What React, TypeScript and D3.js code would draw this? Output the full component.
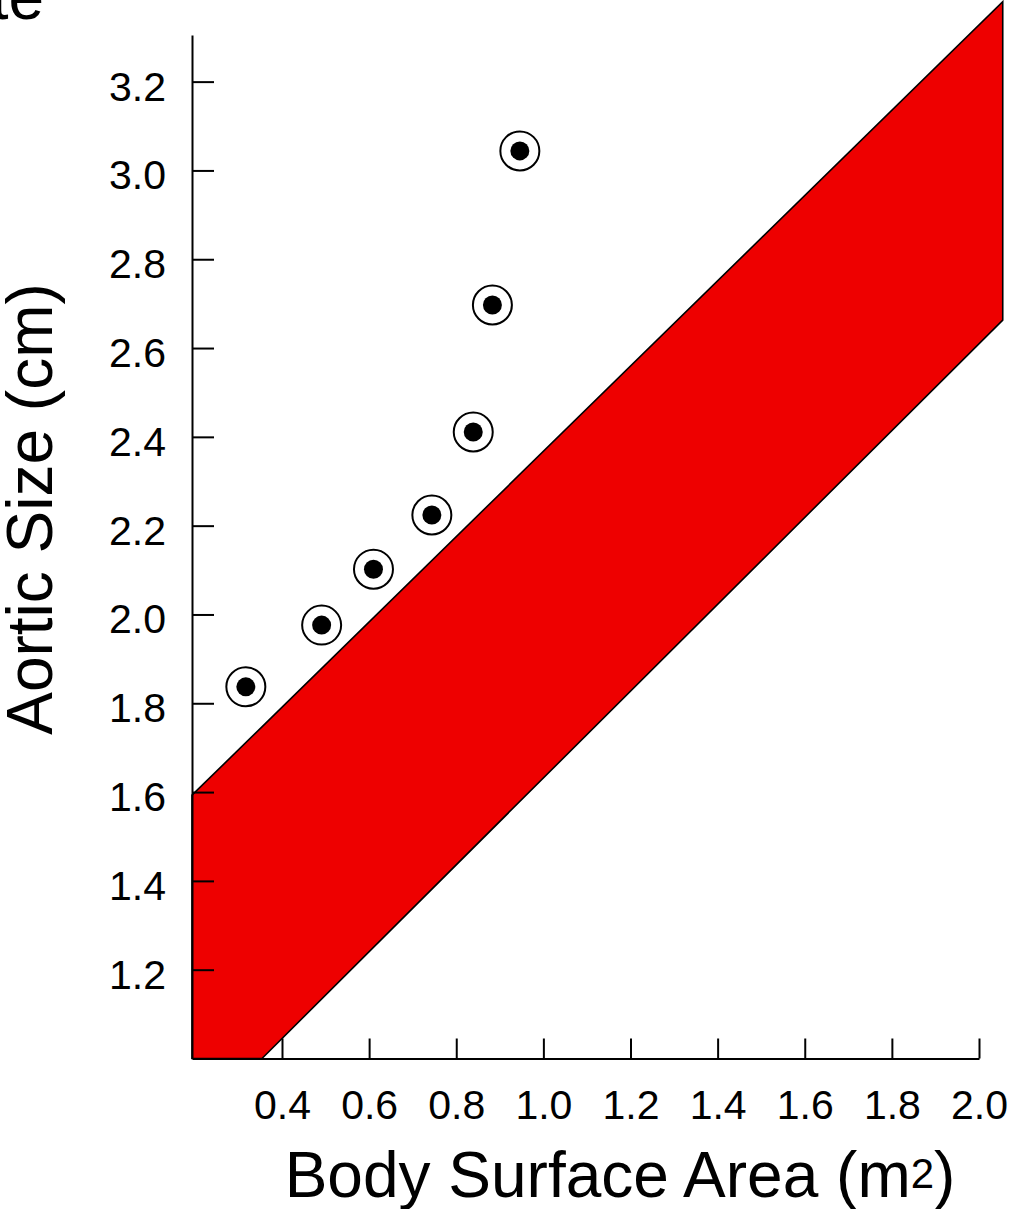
import { useEffect, useRef } from 'react'
import * as d3 from 'd3'

// normal range band (upper / lower limits vs BSA)
const bandBsa = [0.1934, 0.354, 2.0545]
const bandUpper = [1.593, 1.747, 3.38]
const bandLower = [1.0, 1.0, 2.663]

// patient measurements
const pointBsa = [0.317, 0.491, 0.61, 0.744, 0.839, 0.883, 0.946]
const pointSize = [1.837, 1.976, 2.102, 2.224, 2.411, 2.697, 3.044]

const xTicks = [0.4, 0.6, 0.8, 1.0, 1.2, 1.4, 1.6, 1.8, 2.0]
const yTicks = [1.2, 1.4, 1.6, 1.8, 2.0, 2.2, 2.4, 2.6, 2.8, 3.0, 3.2]

export default function App() {
  const svgRef = useRef<SVGSVGElement | null>(null)

  useEffect(() => {
    if (!svgRef.current) return

    const width = 1015
    const height = 1209
    const font = "'Liberation Sans', Arial, Helvetica, sans-serif"

    d3.select(svgRef.current).selectAll('*').remove()

    const svg = d3
      .select(svgRef.current)
      .attr('width', width)
      .attr('height', height)
      .style('background', '#fff')

    const x = d3.scaleLinear().domain([0.1934, 2.0]).range([192, 979])
    const y = d3.scaleLinear().domain([1.0, 3.305]).range([1058.5, 35])

    // band
    const bandData = bandBsa.map((b, i) => ({ b, hi: bandUpper[i], lo: bandLower[i] }))
    const area = d3
      .area<{ b: number; hi: number; lo: number }>()
      .x(d => x(d.b))
      .y0(d => y(d.lo))
      .y1(d => y(d.hi))

    svg
      .append('path')
      .datum(bandData)
      .attr('d', area)
      .attr('fill', '#ee0000')
      .attr('stroke', '#000')
      .attr('stroke-width', 1.6)
      .attr('stroke-linejoin', 'miter')

    // y axis
    const yAxis = d3
      .axisLeft(y)
      .tickValues(yTicks)
      .tickFormat(d3.format('.1f'))
      .tickSizeInner(-22)
      .tickSizeOuter(0)
      .tickPadding(26)

    const gy = svg.append('g').attr('transform', `translate(${x(0.1934)},0)`).call(yAxis)
    gy.select('.domain').attr('stroke', '#000').attr('stroke-width', 2)
    gy.selectAll('.tick line').attr('stroke', '#000').attr('stroke-width', 2)
    gy.selectAll('.tick text')
      .attr('dy', '0.45em')
      .style('font-family', font)
      .style('font-size', '41px')
      .attr('fill', '#000')

    // x axis
    const xAxis = d3
      .axisBottom(x)
      .tickValues(xTicks)
      .tickFormat(d3.format('.1f'))
      .tickSizeInner(-20)
      .tickSizeOuter(0)
      .tickPadding(31)

    const gx = svg.append('g').attr('transform', `translate(0,${y(1.0)})`).call(xAxis)
    gx.select('.domain').attr('stroke', '#000').attr('stroke-width', 2)
    gx.selectAll('.tick line').attr('stroke', '#000').attr('stroke-width', 2)
    gx.selectAll('.tick text')
      .style('font-family', font)
      .style('font-size', '41px')
      .attr('fill', '#000')

    // points
    const pts = svg
      .selectAll('.pt')
      .data(pointBsa.map((b, i) => ({ b, s: pointSize[i] })))
      .enter()
      .append('g')
      .attr('class', 'pt')
      .attr('transform', d => `translate(${x(d.b)},${y(d.s)})`)

    pts.append('circle').attr('r', 19.5).attr('fill', '#fff').attr('stroke', '#000').attr('stroke-width', 2)
    pts.append('circle').attr('r', 9.5).attr('fill', '#000')

    // titles
    svg
      .append('text')
      .attr('transform', 'translate(52,509) rotate(-90)')
      .attr('text-anchor', 'middle')
      .style('font-family', font)
      .style('font-size', '64px')
      .text('Aortic Size (cm)')

    const xt = svg
      .append('text')
      .attr('x', 620)
      .attr('y', 1197)
      .attr('text-anchor', 'middle')
      .style('font-family', font)
      .style('font-size', '64px')
    xt.append('tspan').text('Body Surface Area (m')
    xt.append('tspan').attr('dy', -9).style('font-size', '42px').text('2')
    xt.append('tspan').attr('dy', 9).text(')')

    // clipped heading fragment at top-left
    svg
      .append('text')
      .attr('x', 44)
      .attr('y', 19)
      .attr('text-anchor', 'end')
      .style('font-family', font)
      .style('font-size', '64px')
      .text('te')
  }, [])

  return (
    <div style={{ position: 'absolute', left: 0, top: 0 }}>
      <svg ref={svgRef} style={{ display: 'block' }}></svg>
    </div>
  )
}
